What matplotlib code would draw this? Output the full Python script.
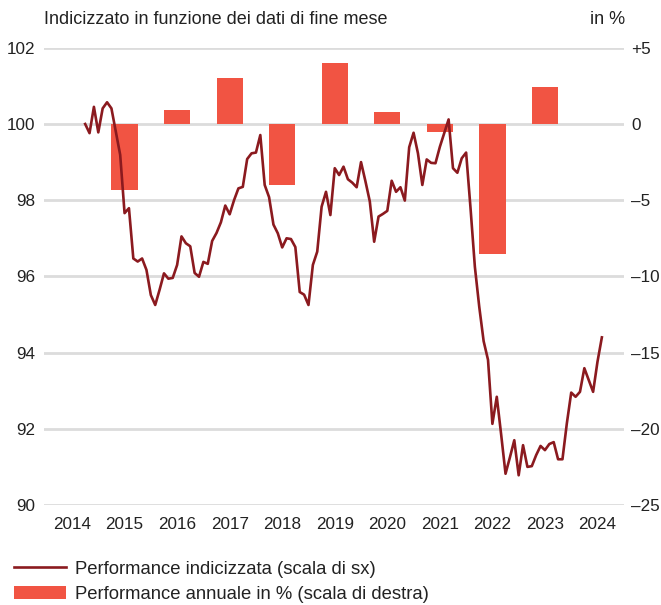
import numpy as np
import pandas as pd
import matplotlib
matplotlib.use("Agg")
import matplotlib.pyplot as plt
from matplotlib.lines import Line2D
from matplotlib.patches import Patch

plt.rcParams['font.family'] = ['Liberation Sans', 'DejaVu Sans']

# Performance indicizzata, dati di fine mese (mar 2014 - gen 2024)
index_values = [
    100.0, 99.76, 100.45, 99.78, 100.41, 100.57, 100.41, 99.8, 99.19, 97.66,
    97.79, 96.47, 96.39, 96.47, 96.17, 95.51, 95.25, 95.65, 96.08, 95.94,
    95.96, 96.3, 97.05, 96.87, 96.79, 96.09, 95.99, 96.38, 96.33, 96.93,
    97.14, 97.42, 97.86, 97.63, 98.0, 98.31, 98.35, 99.08, 99.23, 99.25,
    99.71, 98.4, 98.08, 97.36, 97.13, 96.76, 97.0, 96.98, 96.77, 95.59,
    95.52, 95.25, 96.3, 96.65, 97.83, 98.22, 97.61, 98.84, 98.66, 98.88,
    98.55, 98.46, 98.34, 99.0, 98.5, 97.97, 96.91, 97.57, 97.64, 97.72,
    98.51, 98.22, 98.34, 97.99, 99.39, 99.77, 99.23, 98.4, 99.07, 98.98,
    98.97, 99.4, 99.76, 100.12, 98.84, 98.72, 99.1, 99.25, 97.8, 96.25,
    95.2, 94.3, 93.81, 92.13, 92.84, 91.85, 90.82, 91.25, 91.7, 90.78,
    91.57, 91.0, 91.02, 91.31, 91.55, 91.44, 91.6, 91.65, 91.2, 91.2,
    92.14, 92.95, 92.84, 92.97, 93.59, 93.28, 92.97, 93.76, 94.4,
]
dates = pd.date_range('2014-03-31', periods=len(index_values), freq='ME')
t = dates.year + dates.month / 12.0

# Performance annuale in %
bar_years = [2015, 2016, 2017, 2018, 2019, 2020, 2021, 2022, 2023]
bar_values = [-4.3, 0.9, 3.0, -4.0, 4.0, 0.8, -0.5, -8.5, 2.4]

year_ticks = list(range(2014, 2025))
left_ticks = [90, 92, 94, 96, 98, 100, 102]
right_ticks = [-25, -20, -15, -10, -5, 0, 5]
right_labels = ['\u201325', '\u201320', '\u201315', '\u201310', '\u20135', '0', '+5']

line_color = '#8b1a1f'
bar_color = '#f15443'
grid_color = '#dcdcdc'
text_color = '#222222'

fig = plt.figure(figsize=(6.61, 6.05), dpi=100)
ax = fig.add_axes([0.0666, 0.1653, 0.8774, 0.7557])
ax2 = ax.twinx()

# barre sull'asse destro, sotto la linea
ax2.bar(bar_years, bar_values, width=0.5, color=bar_color, zorder=2)
ax2.set_ylim(-25, 5)
ax2.set_yticks(right_ticks)
ax2.set_yticklabels(right_labels)
ax2.grid(axis='y', color=grid_color, linewidth=2.0, zorder=0)
ax2.set_axisbelow(True)

ax.plot(t, index_values, color=line_color, linewidth=1.9, zorder=3)
ax.set_ylim(90, 102)
ax.set_yticks(left_ticks)
ax.set_xlim(2014 - 28 / 52.55, 2014 + 552 / 52.55)
ax.set_xticks(year_ticks)
ax.set_xticklabels([str(y) for y in year_ticks])

ax.set_zorder(ax2.get_zorder() + 1)
ax.patch.set_visible(False)

for a in (ax, ax2):
    for s in a.spines.values():
        s.set_visible(False)
    a.tick_params(length=0, labelsize=12.3, colors=text_color)
ax.tick_params(axis='y', pad=6)
ax2.tick_params(axis='y', pad=5)
ax.tick_params(axis='x', pad=9)

fig.text(44 / 661, 1 - 20 / 605, 'Indicizzato in funzione dei dati di fine mese',
         fontsize=13, color=text_color, va='center', ha='left')
fig.text(625 / 661, 1 - 20 / 605, 'in %', fontsize=13, color=text_color,
         va='center', ha='right')

handles = [Line2D([0], [0], color=line_color, linewidth=1.9),
           Patch(facecolor=bar_color, edgecolor='none')]
labels = ['Performance indicizzata (scala di sx)',
          'Performance annuale in % (scala di destra)']
fig.legend(handles, labels, loc='upper left', bbox_to_anchor=(0.01, 0.086),
           frameon=False, fontsize=13.3, handlelength=2.8, handleheight=0.75,
           handletextpad=0.48, labelspacing=0.45, borderaxespad=0.0,
           labelcolor=text_color)

fig.savefig('out.png', dpi=100, facecolor='white')
